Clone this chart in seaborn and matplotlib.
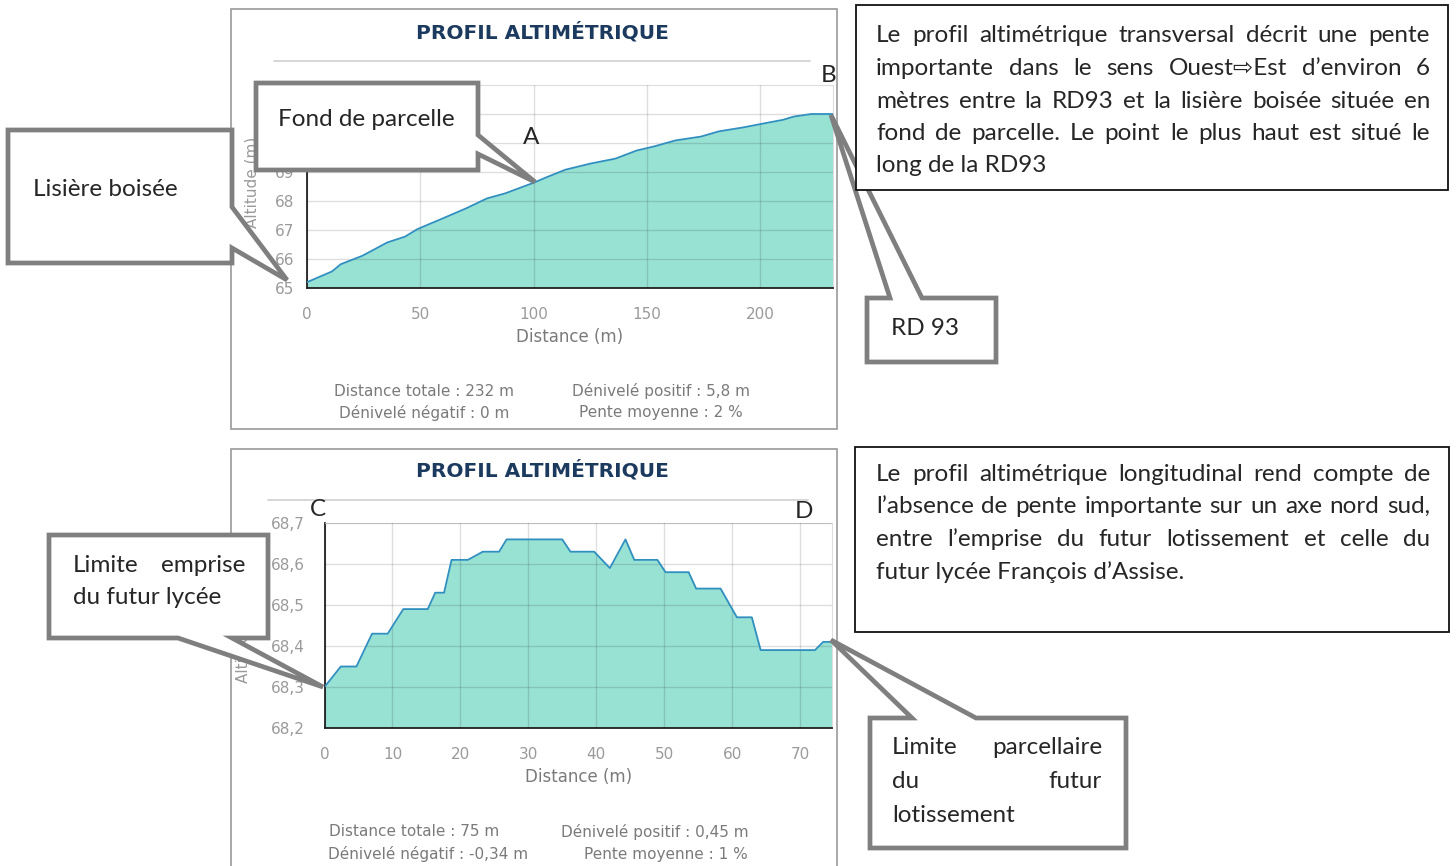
import numpy as np
import pandas as pd
import matplotlib
matplotlib.use("Agg")
import matplotlib.pyplot as plt
import seaborn as sns
from matplotlib.patches import Polygon, Rectangle
from matplotlib.ticker import FuncFormatter
from matplotlib.lines import Line2D

# profil transversal (A -> B)
dist_trans = [0, 11, 14.9, 24.4, 35.4, 43.2, 48.7, 59, 70, 79.4, 87.3, 100, 106, 114,
              125, 136, 145.4, 153, 162.6, 173.7, 181.6, 192.6, 200.5, 210, 214.6, 222.5, 232]
alt_trans = [65.2, 65.57, 65.82, 66.11, 66.57, 66.77, 67.03, 67.37, 67.74, 68.09, 68.26, 68.63,
             68.83, 69.08, 69.29, 69.46, 69.74, 69.88, 70.09, 70.22, 70.4, 70.54, 70.66, 70.8,
             70.91, 71.0, 71.0]

# profil longitudinal (C -> D)
dist_long = [0, 2.4, 4.7, 7.0, 9.3, 11.6, 15.2, 16.3, 17.6, 18.7, 21.1, 23.3, 25.7, 26.8,
             35.0, 36.2, 39.7, 42.0, 44.3, 45.6, 49.0, 50.2, 53.6, 54.7, 58.3, 60.7, 62.9,
             64.2, 72.2, 73.4, 74.7]
alt_long = [68.30, 68.35, 68.35, 68.43, 68.43, 68.49, 68.49, 68.53, 68.53, 68.61, 68.61,
            68.63, 68.63, 68.66, 68.66, 68.63, 68.63, 68.59, 68.66, 68.61, 68.61, 68.58,
            68.58, 68.54, 68.54, 68.47, 68.47, 68.39, 68.39, 68.41, 68.41]

stats_trans = ["Distance totale : 232 m", "Dénivelé positif : 5,8 m",
               "Dénivelé négatif : 0 m", "Pente moyenne : 2 %"]
stats_long = ["Distance totale : 75 m", "Dénivelé positif : 0,45 m",
              "Dénivelé négatif : -0,34 m", "Pente moyenne : 1 %"]

texte_trans = ["Le profil altimétrique transversal décrit une pente",
               "importante dans le sens Ouest⇨Est d’environ 6",
               "mètres entre la RD93 et la lisière boisée située en",
               "fond de parcelle. Le point le plus haut est situé le",
               "long de la RD93"]
texte_long = ["Le profil altimétrique longitudinal rend compte de",
              "l’absence de pente importante sur un axe nord sud,",
              "entre l’emprise du futur lotissement et celle du",
              "futur lycée François d’Assise."]

W, H = 1456, 866
sns.set_style("white")
plt.rcParams["font.family"] = ["DejaVu Sans"]
CAL = ["Lato", "DejaVu Sans"]
FS = 17.5
fig = plt.figure(figsize=(W / 100, H / 100), dpi=100)
renderer = fig.canvas.get_renderer()


def fx(x):
    return x / W


def fy(y):
    return 1 - y / H


def panel(left, top, right, bottom, ax_box, title_y, line_y, line_x, stats, stat_pos):
    fig.patches.append(Rectangle((fx(left), fy(bottom)), fx(right - left), (bottom - top) / H,
                                 transform=fig.transFigure, fill=False, ec="#9a9a9a", lw=1.2, zorder=0.5))
    fig.text(fx((left + right) / 2 + 8), fy(title_y), "PROFIL ALTIMÉTRIQUE", ha="center", va="center",
             fontsize=14.5, fontweight="bold", color="#1c3a5e")
    fig.lines.append(Line2D([fx(line_x[0]), fx(line_x[1])], [fy(line_y), fy(line_y)],
                            transform=fig.transFigure, color="#cfcfcf", lw=1.2))
    for s, (x, y) in zip(stats, stat_pos):
        fig.text(fx(x), fy(y), s, ha="center", va="center", fontsize=11, color="#7a7a7a")
    l, t, r, b = ax_box
    return fig.add_axes([fx(l), fy(b), fx(r - l), (b - t) / H])


def style_axes(ax, xticks, yticks, xmax, ylim, yfmt, ypad, ylab_pos):
    ax.set_xlim(0, xmax)
    ax.set_ylim(*ylim)
    ax.set_xticks(xticks)
    ax.set_xticks([xmax], minor=True)
    ax.set_yticks(yticks)
    ax.yaxis.set_major_formatter(FuncFormatter(yfmt))
    ax.grid(True, color="#000000", alpha=0.13, lw=1)
    ax.set_axisbelow(False)
    for s in ["top", "right"]:
        ax.spines[s].set_color("#dddddd")
    for s in ["left", "bottom"]:
        ax.spines[s].set_color("#222222")
        ax.spines[s].set_linewidth(1.3)
    ax.tick_params(axis="x", which="both", length=6, width=1.2, color="#222222", pad=8,
                   labelsize=11, labelcolor="#9a9a9a", direction="out")
    ax.tick_params(axis="y", length=6, width=1.2, color="#222222", pad=ypad,
                   labelsize=11, labelcolor="#9a9a9a", direction="out")
    ax.set_xlabel("Distance (m)", fontsize=12, color="#7a7a7a", va="center")
    bottom_px = ax.get_position().height * H
    ax.xaxis.set_label_coords(0.5, -49 / bottom_px)
    ax.set_ylabel("Altitude (m)", fontsize=11, color="#9a9a9a")
    ax.yaxis.set_label_coords(*ylab_pos)


def draw_profile(ax, dist, alt, base):
    df = pd.DataFrame({"distance": dist, "altitude": alt})
    ax.fill_between(df["distance"], df["altitude"], base, color="#98e2d4", lw=0, zorder=1)
    sns.lineplot(data=df, x="distance", y="altitude", ax=ax, color="#2f8fbf", lw=1.3, zorder=3)


# graphique transversal
ax1 = panel(231, 9, 837, 429, (307, 85, 833, 288), 32, 61, (274, 810), stats_trans,
            [(424, 391), (661, 391), (424, 413), (661, 413)])
draw_profile(ax1, dist_trans, alt_trans, 65)
style_axes(ax1, [0, 50, 100, 150, 200], [65, 66, 67, 68, 69, 70, 71], 232, (65, 72),
           lambda v, p: f"{v:.0f}", 3, (-0.09, 0.52))
# les graduations 70 et 71 sont masquées par la bulle "Fond de parcelle"
for lab in ax1.get_yticklabels()[-2:]:
    lab.set_visible(False)

# graphique longitudinal
ax2 = panel(231, 449, 837, 880, (324.5, 523, 832, 728), 470, 500, (268, 808), stats_long,
            [(414, 832), (655, 832), (428, 854), (666, 854)])
draw_profile(ax2, dist_long, alt_long, 68.2)
style_axes(ax2, [0, 10, 20, 30, 40, 50, 60, 70], [68.2, 68.3, 68.4, 68.5, 68.6, 68.7], 74.7,
           (68.2, 68.7), lambda v, p: f"{v:.1f}".replace(".", ","), 8, (-0.146, 0.44))


def callout(pts, lw=3.4):
    fig.patches.append(Polygon([(fx(x), fy(y)) for x, y in pts], closed=True, transform=fig.transFigure,
                               fc="white", ec="#7f7f7f", lw=lw, joinstyle="miter", zorder=2))


def justified(lines, x0, x1, y0, dy, size, justify_last=False):
    for i, line in enumerate(lines):
        y = fy(y0 + i * dy)
        words = line.split()
        last = (i == len(lines) - 1) and not justify_last
        if last or len(words) == 1:
            fig.text(fx(x0), y, line, fontsize=size, family=CAL, va="center", ha="left", zorder=5)
            continue
        texts = [fig.text(0, y, w, fontsize=size, family=CAL, va="center", ha="left", zorder=5) for w in words]
        widths = [t.get_window_extent(renderer).width for t in texts]
        gap = (x1 - x0 - sum(widths)) / (len(words) - 1)
        x = x0
        for t, w in zip(texts, widths):
            t.set_x(fx(x))
            x += w + gap


# bulles
callout([(8, 130), (232, 130), (232, 207), (287, 280), (232, 248), (232, 263), (8, 263)])
fig.text(fx(33), fy(189), "Lisière boisée", fontsize=FS, family=CAL, va="center")

callout([(256, 83), (478, 83), (478, 135), (535, 182), (478, 154), (478, 170), (256, 170)])
fig.text(fx(278), fy(120), "Fond de parcelle", fontsize=FS, family=CAL, va="center")

callout([(867, 298), (890, 298), (831, 115), (922, 298), (996, 298), (996, 362), (867, 362)])
fig.text(fx(891), fy(329), "RD 93", fontsize=FS, family=CAL, va="center")

callout([(49, 535), (268, 535), (268, 638), (232, 638), (323, 687), (178, 638), (49, 638)])
justified(["Limite emprise", "du futur lycée"], 73, 245, 565, 33, FS)

callout([(870, 718), (912, 718), (831, 640), (976, 718), (1126, 718), (1126, 848), (870, 848)])
justified(["Limite parcellaire", "du futur", "lotissement"], 892, 1102, 748, 33.5, FS)

# encadrés de texte
for (l, t, r, b) in [(856, 5, 1448, 190), (855, 447, 1449, 632)]:
    fig.patches.append(Rectangle((fx(l), fy(b)), fx(r - l), (b - t) / H, transform=fig.transFigure,
                                 fill=True, fc="white", ec="#111111", lw=1.3, zorder=2))
justified(texte_trans, 876, 1430, 36, 32.5, FS)
justified(texte_long, 876, 1430, 474, 32.7, FS)

# repères
for s, (x, y) in zip("ABCD", [(531, 137), (829, 75), (318, 509), (804, 512)]):
    fig.text(fx(x), fy(y), s, fontsize=FS, family=CAL, ha="center", va="center", zorder=5)

fig.savefig("out.png", dpi=100, facecolor="white")
